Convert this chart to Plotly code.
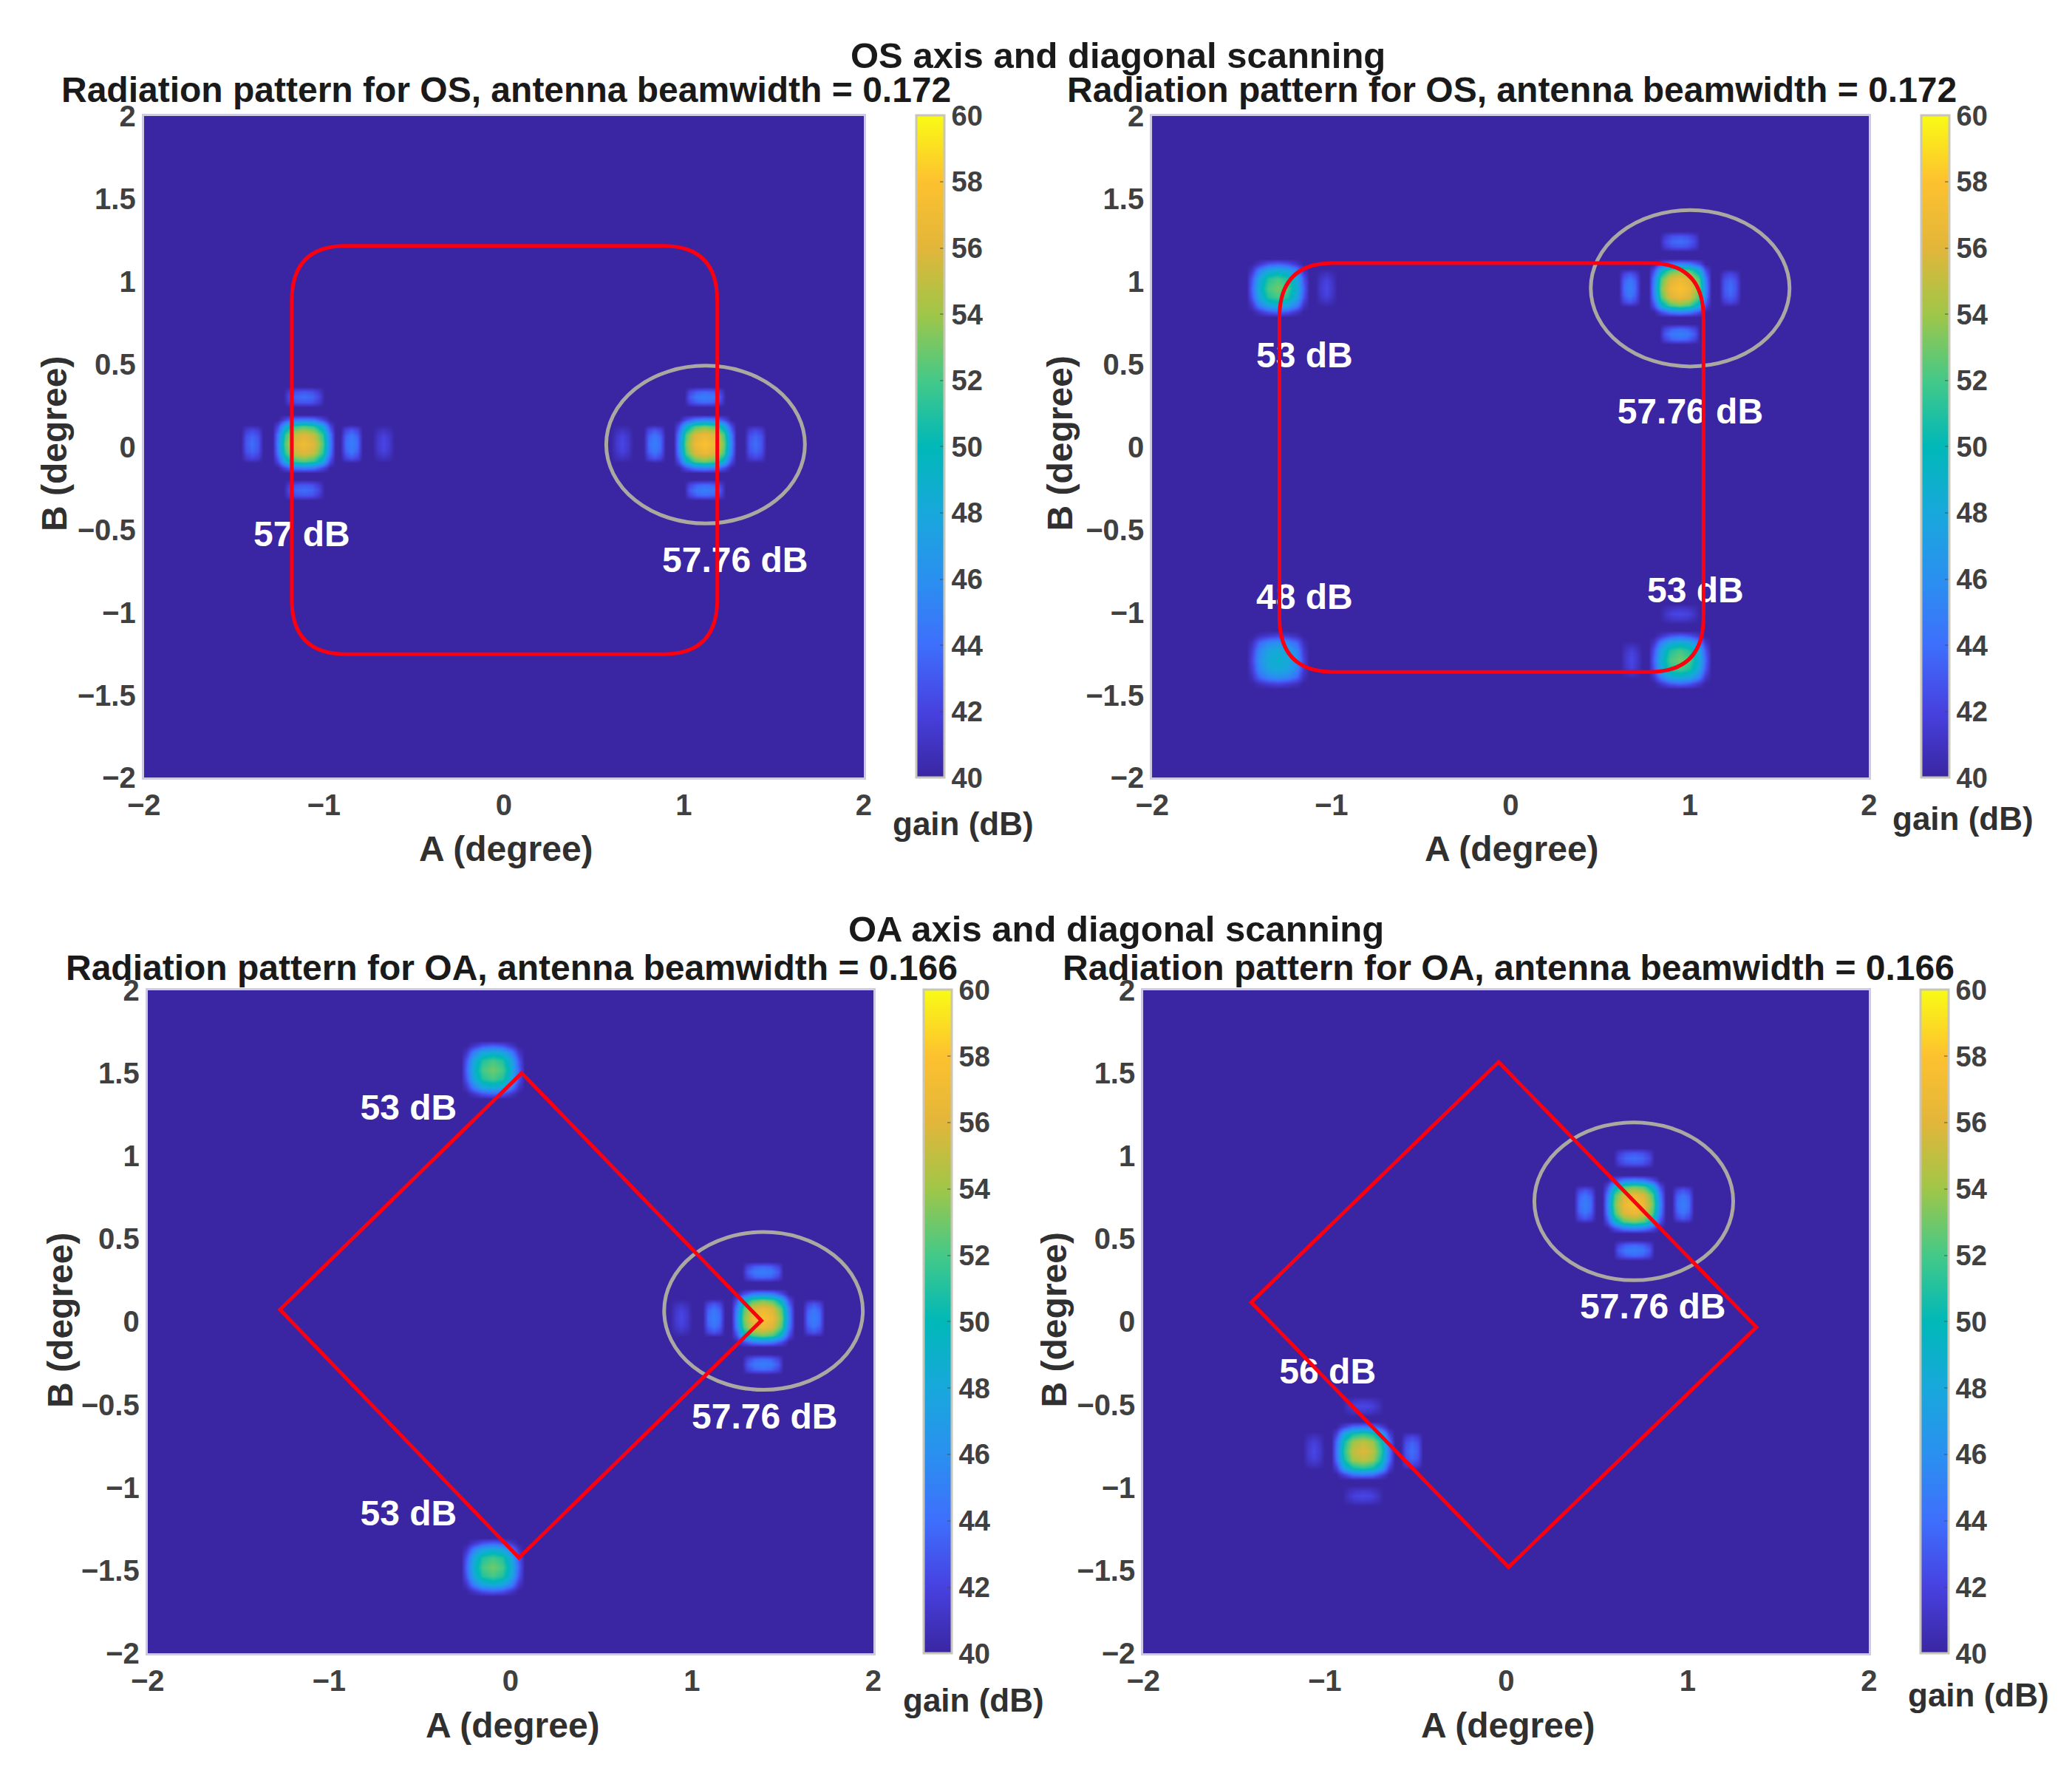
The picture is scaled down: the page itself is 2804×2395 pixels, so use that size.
import plotly.graph_objects as go

# Figure size, fixed margin and text font
W = 2804
H = 2395
M = 30
FONT = "Liberation Sans"

# parula-like colours
PARULA = [[0.0, "#3a26a2"], [0.1, "#4741e0"], [0.2, "#3e6ffc"], [0.3, "#2a90f0"],
          [0.4, "#18a8dc"], [0.5, "#00b8b8"], [0.6, "#44c988"], [0.7, "#a0c648"],
          [0.8, "#e2b63a"], [0.9, "#fdc12f"], [1.0, "#f9fb15"]]
CBAR_TICKS = [40, 42, 44, 46, 48, 50, 52, 54, 56, 58, 60]

# axis ticks
TICKS = [-2, -1.5, -1, -0.5, 0, 0.5, 1, 1.5, 2]
TICK_TEXT = ["\u22122", "\u22121.5", "\u22121", "\u22120.5", "0", "0.5", "1", "1.5", "2"]
X_TICKS = [-2, -1, 0, 1, 2]
X_TICK_TEXT = ["\u22122", "\u22121", "0", "1", "2"]

# offsets (degree) of the beam tables, one quadrant, mirrored when drawn
BEAM_STEPS = [0, 0.055, 0.105, 0.145, 0.175]
LOBE_THIN = [0, 0.032, 0.062]
LOBE_LONG = [0, 0.045, 0.085, 0.115]

# main beam gain (dB), rows are B offset, columns A offset
BEAM_5776 = [[57.8, 56.8, 53.2, 45.5, 40], [56.8, 55.7, 52.2, 44.8, 40], [53.2, 52.2, 48.8, 42.5, 40],
             [45.5, 44.8, 42.5, 40, 40], [40, 40, 40, 40, 40]]
BEAM_57 = [[57.0, 56.0, 52.4, 45.0, 40], [56.0, 54.9, 51.4, 44.4, 40], [52.4, 51.4, 48.2, 42.2, 40],
           [45.0, 44.4, 42.2, 40, 40], [40, 40, 40, 40, 40]]
BEAM_56 = [[56.0, 54.9, 51.2, 44.5, 40], [54.9, 53.9, 50.3, 44.0, 40], [51.2, 50.3, 47.4, 41.8, 40],
           [44.5, 44.0, 41.8, 40, 40], [40, 40, 40, 40, 40]]
BEAM_53 = [[53.0, 52.0, 48.6, 43.5, 40], [52.0, 51.0, 47.8, 42.8, 40], [48.6, 47.8, 45.0, 41.2, 40],
           [43.5, 42.8, 41.2, 40, 40], [40, 40, 40, 40, 40]]
BEAM_49 = [[49.0, 48.2, 46.0, 42.0, 40], [48.2, 47.6, 45.4, 41.5, 40], [46.0, 45.4, 43.6, 40.8, 40],
           [42.0, 41.5, 40.8, 40, 40], [40, 40, 40, 40, 40]]

# side lobe gain (dB), rows along the long side, columns across
LOBE_45 = [[45.0, 43.8, 40], [44.6, 43.4, 40], [43.0, 42.0, 40], [40, 40, 40]]
LOBE_44 = [[44.0, 43.0, 40], [43.6, 42.7, 40], [42.2, 41.5, 40], [40, 40, 40]]
LOBE_42 = [[42.3, 41.4, 40], [42.0, 41.2, 40], [41.0, 40.6, 40], [40, 40, 40]]

# beams per panel: A, B, main table
P1_BEAMS = [(-1.112, 0.018, BEAM_57), (1.116, 0.018, BEAM_5776)]
P2_BEAMS = [(-1.30, 0.96, BEAM_53), (0.943, 0.96, BEAM_5776), (-1.30, -1.287, BEAM_49), (0.943, -1.287, BEAM_53)]
P3_BEAMS = [(-0.099, 1.519, BEAM_53), (-0.099, -1.479, BEAM_53), (1.39, 0.023, BEAM_5776)]
P4_BEAMS = [(0.703, 0.708, BEAM_5776), (-0.791, -0.778, BEAM_56)]

# side lobes per panel: A, B, table, tall (True) or wide (False)
P1_LOBES = [(-1.40, 0.018, LOBE_44, True), (-0.848, 0.018, LOBE_45, True), (-1.112, 0.30, LOBE_44, False),
            (-1.112, -0.262, LOBE_44, False), (-0.67, 0.018, LOBE_42, True),
            (0.836, 0.018, LOBE_45, True), (0.656, 0.018, LOBE_42, True), (1.396, 0.018, LOBE_44, True),
            (1.116, 0.30, LOBE_45, False), (1.116, -0.262, LOBE_45, False)]
P2_LOBES = [(-1.03, 0.96, LOBE_42, True), (0.663, 0.96, LOBE_45, True), (1.223, 0.96, LOBE_44, True),
            (0.943, 1.24, LOBE_44, False), (0.943, 0.68, LOBE_45, False),
            (0.943, -1.01, LOBE_42, False), (0.673, -1.287, LOBE_42, True)]
P3_LOBES = [(1.12, 0.023, LOBE_45, True), (0.94, 0.023, LOBE_42, True), (1.67, 0.023, LOBE_45, True),
            (1.39, 0.30, LOBE_45, False), (1.39, -0.257, LOBE_45, False)]
P4_LOBES = [(0.433, 0.708, LOBE_45, True), (0.973, 0.708, LOBE_45, True), (0.703, 0.985, LOBE_44, False),
            (0.703, 0.43, LOBE_45, False), (-1.061, -0.778, LOBE_42, True), (-0.521, -0.778, LOBE_44, True),
            (-0.791, -0.51, LOBE_42, False), (-0.791, -1.05, LOBE_42, False)]

# gain labels: A, B, text
P1_LABELS = [(-1.123, -0.549, "57 dB"), (1.285, -0.701, "57.76 dB")]
P2_LABELS = [(-1.15, 0.533, "53 dB"), (1.002, 0.196, "57.76 dB"), (-1.15, -0.926, "48 dB"), (1.031, -0.886, "53 dB")]
P3_LABELS = [(-0.562, 1.272, "53 dB"), (1.401, -0.592, "57.76 dB"), (-0.562, -1.176, "53 dB")]
P4_LABELS = [(0.808, 0.072, "57.76 dB"), (-0.984, -0.32, "56 dB")]

# grey ellipses: A0, A1, B0, B1
P1_ELLIPSE = (0.569, 1.673, -0.463, 0.49)
P2_ELLIPSE = (0.447, 1.556, 0.485, 1.43)
P3_ELLIPSE = (0.847, 1.942, -0.41, 0.541)
P4_ELLIPSE = (0.155, 1.251, 0.25, 1.202)

# red outlines
P1_RECT = (-1.178, 1.186, -1.253, 1.213)
P2_RECT = (-1.29, 1.076, -1.36, 1.11)
P3_DIAMOND = [(0.062, 1.499), (1.383, 0.007), (0.047, -1.422), (-1.27, 0.073)]
P4_DIAMOND = [(-0.042, 1.566), (1.379, -0.033), (0.013, -1.479), (-1.405, 0.117)]

# panel boxes in page pixels: left, right, top, bottom, colourbar left
BOXES = [(190, 1166, 153, 1052, 1237), (1557, 2529, 153, 1052, 2600),
         (195, 1179, 1340, 2241, 1247), (1545, 2529, 1340, 2241, 2599)]

SUPER_TITLES = [("OS axis and diagonal scanning", 1511, 71), ("OA axis and diagonal scanning", 1508, 1257)]
PANEL_TITLES = [("Radiation pattern for OS, antenna beamwidth = 0.172", 681, 118),
                ("Radiation pattern for OS, antenna beamwidth = 0.172", 2045, 118),
                ("Radiation pattern for OA, antenna beamwidth = 0.166", 689, 1310),
                ("Radiation pattern for OA, antenna beamwidth = 0.166", 2040, 1310)]
X_TITLES = [(681, 1148), (2045, 1148), (690, 2338), (2040, 2338)]
Y_TITLES = [(68, 598), (1432, 598), (77, 1788), (1425, 1788)]
GAIN_TITLES = [(1301, 1114), (2656, 1107), (1315, 2304), (2677, 2297)]


def mirror(values):
    # full symmetric axis from the positive offsets
    return [-v for v in values[:0:-1]] + list(values)


def mirror_table(table):
    rows = [row[:0:-1] + row for row in table]
    return rows[:0:-1] + rows


def swap(table):
    return [list(col) for col in zip(*table)]


def paper_x(x):
    return (x - M) / (W - 2 * M)


def paper_y(y):
    return 1 - (y - M) / (H - 2 * M)


def rounded_rect(a0, a1, b0, b1, ra=0.3, rb=0.33):
    return (f"M {a0 + ra} {b1} L {a1 - ra} {b1} Q {a1} {b1} {a1} {b1 - rb} "
            f"L {a1} {b0 + rb} Q {a1} {b0} {a1 - ra} {b0} "
            f"L {a0 + ra} {b0} Q {a0} {b0} {a0} {b0 + rb} "
            f"L {a0} {b1 - rb} Q {a0} {b1} {a0 + ra} {b1} Z")


def polygon(points):
    return "M " + " L ".join(f"{a} {b}" for a, b in points) + " Z"


fig = go.Figure()
layout = {}
all_beams = [P1_BEAMS, P2_BEAMS, P3_BEAMS, P4_BEAMS]
all_lobes = [P1_LOBES, P2_LOBES, P3_LOBES, P4_LOBES]
all_labels = [P1_LABELS, P2_LABELS, P3_LABELS, P4_LABELS]

for i, (left, right, top, bottom, cbar_left) in enumerate(BOXES):
    n = "" if i == 0 else str(i + 1)
    xa, ya, ca = f"x{n}", f"y{n}", f"coloraxis{n}"
    layout[f"xaxis{n}"] = dict(domain=[paper_x(left), paper_x(right)], range=[-2, 2], anchor=ya,
                               tickvals=X_TICKS, ticktext=X_TICK_TEXT, ticks="", showgrid=False, zeroline=False,
                               mirror=True, showline=True, linecolor="#cdcbe4", linewidth=3,
                               tickfont=dict(family=FONT, size=40, color="#404040", weight=700))
    layout[f"yaxis{n}"] = dict(domain=[paper_y(bottom), paper_y(top)], range=[-2, 2], anchor=xa,
                               tickvals=TICKS, ticktext=TICK_TEXT, ticks="", showgrid=False, zeroline=False,
                               mirror=True, showline=True, linecolor="#cdcbe4", linewidth=3,
                               tickfont=dict(family=FONT, size=40, color="#404040", weight=700))
    layout[ca] = dict(cmin=40, cmax=60, colorscale=PARULA, colorbar=dict(
        x=paper_x(cbar_left), xanchor="left", y=paper_y(bottom), yanchor="bottom",
        len=(bottom - top) / (H - 2 * M), lenmode="fraction", thickness=38, thicknessmode="pixels",
        xpad=0, ypad=0, outlinewidth=3, outlinecolor="#c8c6b8",
        tickvals=CBAR_TICKS, ticks="inside", ticklen=7, tickwidth=2, tickcolor="rgba(70,70,70,0.45)",
        tickfont=dict(family=FONT, size=38, color="#404040", weight=700)))

    # background level
    fig.add_trace(go.Heatmap(x=[-2, 2], y=[-2, 2], z=[[40, 40], [40, 40]], coloraxis=ca, xaxis=xa, yaxis=ya,
                             hoverinfo="skip"))
    for a, b, table in all_beams[i]:
        fig.add_trace(go.Heatmap(x=[a + d for d in mirror(BEAM_STEPS)], y=[b + d for d in mirror(BEAM_STEPS)],
                                 z=mirror_table(table), zsmooth="best", coloraxis=ca, xaxis=xa, yaxis=ya))
    for a, b, table, tall in all_lobes[i]:
        thin, long = mirror(LOBE_THIN), mirror(LOBE_LONG)
        z = mirror_table(table)
        if tall:
            xs, ys = thin, long
        else:
            xs, ys, z = long, thin, swap(z)
        fig.add_trace(go.Heatmap(x=[a + d for d in xs], y=[b + d for d in ys], z=z, zsmooth="best",
                                 coloraxis=ca, xaxis=xa, yaxis=ya))

    # gain labels as text traces so the red outline runs over them
    labels = all_labels[i]
    fig.add_trace(go.Scatter(x=[v[0] for v in labels], y=[v[1] for v in labels], text=[v[2] for v in labels],
                             mode="text", textposition="middle center", xaxis=xa, yaxis=ya, showlegend=False,
                             textfont=dict(family=FONT, size=48, color="white", weight=700)))

shapes = []
for n, e in zip(["", "2", "3", "4"], [P1_ELLIPSE, P2_ELLIPSE, P3_ELLIPSE, P4_ELLIPSE]):
    shapes.append(dict(type="circle", xref=f"x{n}", yref=f"y{n}", x0=e[0], x1=e[1], y0=e[2], y1=e[3],
                       line=dict(color="#aaa8a0", width=5), layer="above"))
red = dict(color="#fa0010", width=5)
shapes.append(dict(type="path", xref="x", yref="y", path=rounded_rect(*P1_RECT), line=red, layer="above"))
shapes.append(dict(type="path", xref="x2", yref="y2", path=rounded_rect(*P2_RECT), line=red, layer="above"))
shapes.append(dict(type="path", xref="x3", yref="y3", path=polygon(P3_DIAMOND), line=red, layer="above"))
shapes.append(dict(type="path", xref="x4", yref="y4", path=polygon(P4_DIAMOND), line=red, layer="above"))


def note(text, x, y, size, color="#202020", angle=0):
    return dict(text=text, x=paper_x(x), y=paper_y(y), xref="paper", yref="paper", showarrow=False,
                xanchor="center", yanchor="middle", textangle=angle,
                font=dict(family=FONT, size=size, color=color, weight=700))


notes = []
for text, x, y in SUPER_TITLES:
    notes.append(note(text, x, y, 49, "#1a1a1a"))
for text, x, y in PANEL_TITLES:
    notes.append(note(text, x, y, 48, "#1a1a1a"))
for x, y in X_TITLES:
    notes.append(note("A (degree)", x, y, 48, "#303030"))
for x, y in Y_TITLES:
    notes.append(note("B (degree)", x, y, 48, "#303030", -90))
for x, y in GAIN_TITLES:
    notes.append(note("gain (dB)", x, y, 44, "#303030"))

fig.update_layout(width=W, height=H, margin=dict(l=M, r=M, t=M, b=M), autosize=False,
                  paper_bgcolor="white", plot_bgcolor="#3a26a2", showlegend=False,
                  shapes=shapes, annotations=notes, **layout)
fig.write_html("out.html", post_script="document.body.style.margin='0';", config={"displayModeBar": False})
